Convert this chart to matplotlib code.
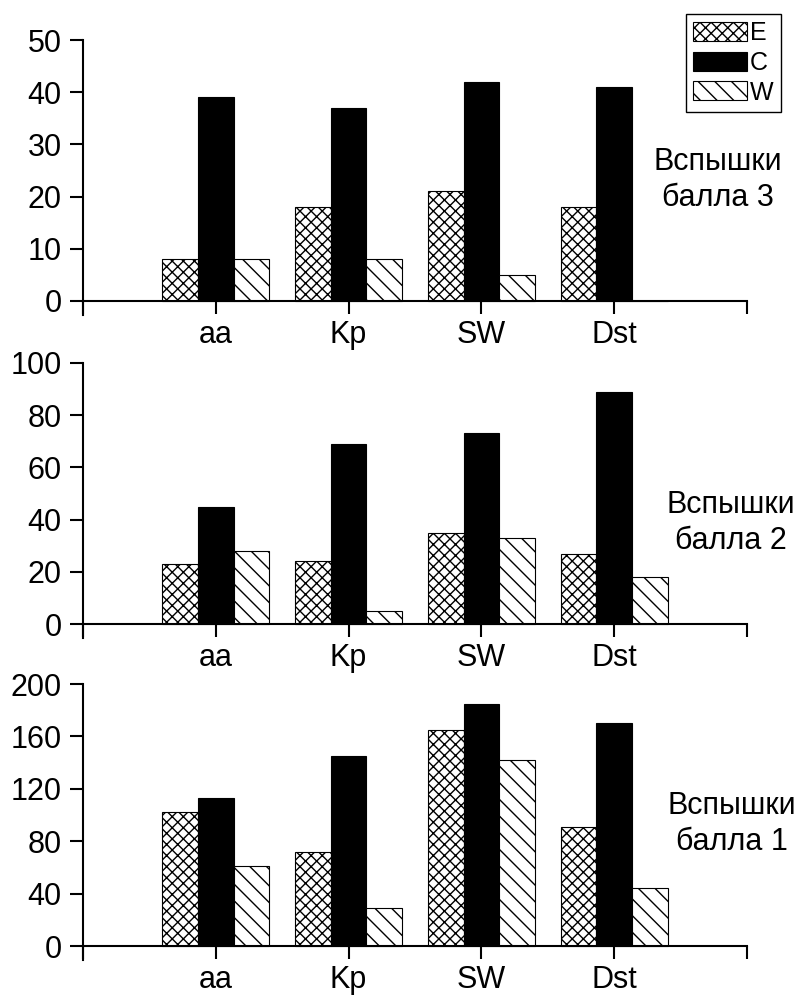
import numpy as np
import matplotlib
matplotlib.use("Agg")
import matplotlib.pyplot as plt

plt.rcParams["font.family"] = ["Liberation Sans", "DejaVu Sans"]
plt.rcParams["hatch.linewidth"] = 1.0

# Данные
CATEGORIES = ["aa", "Kp", "SW", "Dst"]
SERIES = ["E", "C", "W"]

E_3 = [8, 18, 21, 18]
C_3 = [39, 37, 42, 41]
W_3 = [8, 8, 5, 0]

E_2 = [23, 24, 35, 27]
C_2 = [45, 69, 73, 89]
W_2 = [28, 5, 33, 18]

E_1 = [102, 72, 165, 91]
C_1 = [113, 145, 185, 170]
W_1 = [61, 29, 142, 44]

YTICKS_3 = [0, 10, 20, 30, 40, 50]
YTICKS_2 = [0, 20, 40, 60, 80, 100]
YTICKS_1 = [0, 40, 80, 120, 160, 200]

W_PX, H_PX = 806, 999
X_LEFT, X_RIGHT = 83, 747
BAR_W = 0.268
EXT_PX = 14
FS = 22

STYLE = {
    "E": dict(facecolor="white", edgecolor="black", hatch="xxx"),
    "C": dict(facecolor="black", edgecolor="black", hatch=None),
    "W": dict(facecolor="white", edgecolor="black", hatch="\\\\"),
}


def draw_panel(fig, top_px, zero_px, values, yticks, label, text_xy):
    ymax = yticks[-1]
    scale = (zero_px - top_px) / ymax
    bottom_px = zero_px + EXT_PX
    rect = [X_LEFT / W_PX, 1 - bottom_px / H_PX,
            (X_RIGHT - X_LEFT) / W_PX, (bottom_px - top_px) / H_PX]
    ax = fig.add_axes(rect)
    x = np.arange(1, len(CATEGORIES) + 1)
    for k, (name, vals) in enumerate(zip(SERIES, values)):
        ax.bar(x + (k - 1) * BAR_W, vals, width=BAR_W, linewidth=0.8,
               label=name, **STYLE[name])
    ax.set_xlim(0, 5)
    ax.set_ylim(-EXT_PX / scale, ymax)
    ax.spines["bottom"].set_position(("data", 0))
    ax.spines["top"].set_visible(False)
    ax.spines["right"].set_visible(False)
    for s in ("left", "bottom"):
        ax.spines[s].set_linewidth(1.5)
    ax.set_yticks(yticks)
    ax.set_xticks(range(0, 6))
    ax.set_xticklabels([""] + CATEGORIES + [""])
    ax.tick_params(axis="both", labelsize=FS, length=9.5, width=1.5)
    ax.tick_params(axis="x", pad=4)
    ax.tick_params(axis="y", pad=6)
    fig.text(text_xy[0] / W_PX, 1 - text_xy[1] / H_PX, label,
             ha="center", va="center", fontsize=FS, linespacing=1.25)
    return ax


fig = plt.figure(figsize=(W_PX / 100, H_PX / 100), dpi=100)

ax1 = draw_panel(fig, 40, 301, [E_3, C_3, W_3], YTICKS_3,
                 "Вспышки\nбалла 3", (718, 180))
draw_panel(fig, 363, 624, [E_2, C_2, W_2], YTICKS_2,
           "Вспышки\nбалла 2", (731, 523))
draw_panel(fig, 684, 946, [E_1, C_1, W_1], YTICKS_1,
           "Вспышки\nбалла 1", (732, 824))

leg = ax1.legend(loc="upper right", bbox_to_anchor=(781 / W_PX, 1 - 14 / H_PX),
                 bbox_transform=fig.transFigure, fontsize=18, frameon=True,
                 fancybox=False, framealpha=1, edgecolor="black",
                 handlelength=2.15, handleheight=0.8, labelspacing=0.22,
                 handletextpad=0.12, borderpad=0.3, borderaxespad=0)
leg.get_frame().set_linewidth(1.0)

fig.savefig("out.png", dpi=100)
